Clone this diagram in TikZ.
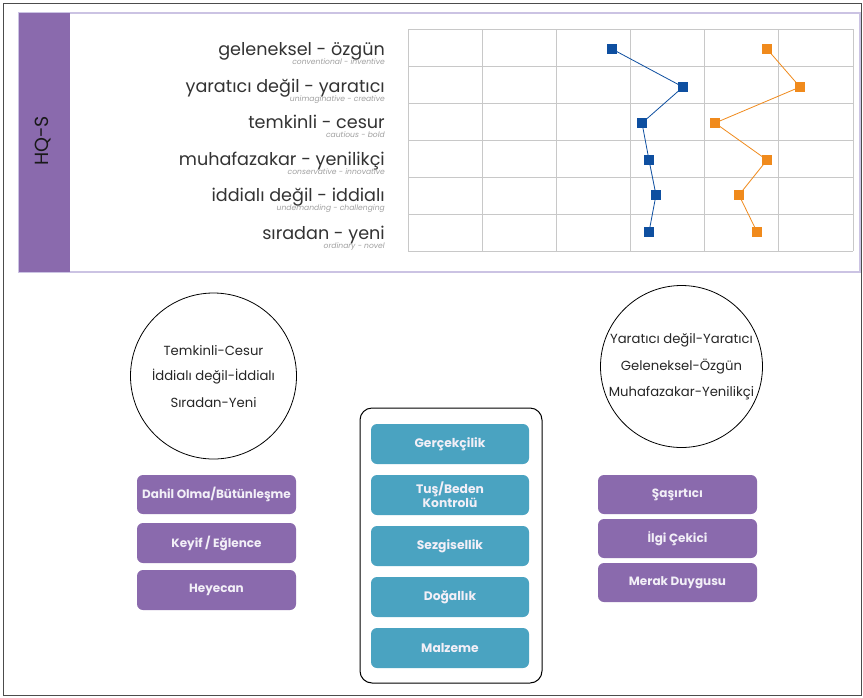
\documentclass[tikz,border=0pt]{standalone}
\usepackage{fontspec}
\setmainfont{Poppins}
\definecolor{band}{HTML}{8A6AAD}
\definecolor{panelline}{HTML}{CBC3E3}
\definecolor{gridc}{HTML}{C8C8C8}
\definecolor{serA}{HTML}{0E4FA0}
\definecolor{serB}{HTML}{F08A1C}
\definecolor{tealc}{HTML}{4AA3C1}
\definecolor{boxtext}{HTML}{F2EFF7}
\definecolor{subc}{HTML}{A0A0A0}
\begin{document}
\begin{tikzpicture}[x=1pt,y=-1pt,
  pair/.style={anchor=base east,font=\fontsize{17.6}{17.6}\selectfont,text=black!80,inner sep=0pt},
  sub/.style={anchor=base east,font=\fontsize{7.6}{7.6}\selectfont\itshape,text=subc,inner sep=0pt},
  purplebox/.style={draw=none,fill=band,rounded corners=6pt,text=boxtext,
    font=\fontsize{12}{12}\selectfont\bfseries,align=center},
  tealbox/.style={draw=none,fill=tealc,rounded corners=6pt,text=boxtext,
    font=\fontsize{12.3}{11}\selectfont\bfseries,align=center},
  ring/.style={circle,draw=black,line width=0.8pt},
  ringtext/.style={font=\fontsize{13.2}{13}\selectfont,text=black!85,inner sep=0pt},
  markA/.style={draw=none,minimum size=10pt,inner sep=0pt,rectangle},
  markB/.style={draw=none,minimum size=10pt,inner sep=0pt,rectangle}]
\useasboundingbox (0,0) rectangle (863,697);
\fill[white] (0,0) rectangle (863,697);
% outer frame
\draw[black!70,line width=1pt] (3,3) rectangle (861,695);
% top panel with title band
\draw[panelline,line width=1.2pt,fill=white] (19,13) rectangle (860,272);
\fill[band] (19,13) rectangle (70,272);
\node[rotate=90,font=\fontsize{19}{19}\selectfont,text=black!90] (title) at (43,141) {HQ-S};
% row labels
\node[pair] (l1) at (385,55) {geleneksel - özgün};
\node[sub]  (s1) at (385,64.5) {conventional - inventive};
\node[pair] (l2) at (385,92) {yaratıcı değil - yaratıcı};
\node[sub]  (s2) at (385,101.5) {unimaginative - creative};
\node[pair] (l3) at (385,128) {temkinli - cesur};
\node[sub]  (s3) at (385,137.5) {cautious - bold};
\node[pair] (l4) at (385,165) {muhafazakar - yenilikçi};
\node[sub]  (s4) at (385,174.5) {conservative - innovative};
\node[pair] (l5) at (385,201) {iddialı değil - iddialı};
\node[sub]  (s5) at (385,210.5) {undemanding - challenging};
\node[pair] (l6) at (385,239) {sıradan - yeni};
\node[sub]  (s6) at (385,248.5) {ordinary - novel};
% grid
\foreach \x in {408,482.2,556.3,630.5,704.7,778.8,853} \draw[gridc,line width=0.7pt] (\x,29) -- (\x,251);
\foreach \y in {29,66,103,140,177,214,251} \draw[gridc,line width=0.7pt] (408,\y) -- (853,\y);
% series
\node[markA] (a1) at (612,49) {};
\node[markA] (a2) at (683,87) {};
\node[markA] (a3) at (642,123) {};
\node[markA] (a4) at (649,160) {};
\node[markA] (a5) at (656,195) {};
\node[markA] (a6) at (649,232) {};
\draw[serA,line width=0.8pt] (a1.center) -- (a2.center) -- (a3.center) -- (a4.center) -- (a5.center) -- (a6.center);
\node[markB] (b1) at (767,49) {};
\node[markB] (b2) at (800,87) {};
\node[markB] (b3) at (715,123) {};
\node[markB] (b4) at (767,160) {};
\node[markB] (b5) at (739,195) {};
\node[markB] (b6) at (757,232) {};
\draw[serB,line width=0.8pt] (b1.center) -- (b2.center) -- (b3.center) -- (b4.center) -- (b5.center) -- (b6.center);
\foreach \n in {a1,a2,a3,a4,a5,a6} \fill[serA] ([shift={(-5,-5)}]\n.center) rectangle ([shift={(5,5)}]\n.center);
\foreach \n in {b1,b2,b3,b4,b5,b6} \fill[serB] ([shift={(-5,-5)}]\n.center) rectangle ([shift={(5,5)}]\n.center);
% left group
\node[ring,minimum size=166pt] (cl) at (213.5,376) {};
\node[ringtext] (cl1) at (213.5,351) {Temkinli-Cesur};
\node[ringtext] (cl2) at (213.5,377) {İddialı değil-İddialı};
\node[ringtext] (cl3) at (213.5,403) {Sıradan-Yeni};
\node[purplebox,minimum width=159pt,minimum height=39pt] (p1) at (216.5,494.5) {Dahil Olma/Bütünleşme};
\node[purplebox,minimum width=159pt,minimum height=40pt] (p2) at (216.5,543) {Keyif / Eğlence};
\node[purplebox,minimum width=159pt,minimum height=40pt] (p3) at (216.5,590) {Heyecan};
% middle group
\draw[black,line width=1pt,rounded corners=12pt] (360,408) rectangle (542,683);
\node[tealbox,minimum width=158pt,minimum height=40pt] (t1) at (450,444) {Gerçekçilik};
\node[tealbox,minimum width=158pt,minimum height=40pt] (t2) at (450,495) {Tuş/Beden\\Kontrolü};
\node[tealbox,minimum width=158pt,minimum height=40pt] (t3) at (450,546) {Sezgisellik};
\node[tealbox,minimum width=158pt,minimum height=40pt] (t4) at (450,597) {Doğallık};
\node[tealbox,minimum width=158pt,minimum height=40pt] (t5) at (450,648) {Malzeme};
% right group
\node[ring,minimum size=162pt] (cr) at (681.5,366.5) {};
\node[ringtext] (cr1) at (681.5,340) {Yaratıcı değil-Yaratıcı};
\node[ringtext] (cr2) at (681.5,367) {Geleneksel-Özgün};
\node[ringtext] (cr3) at (681.5,393) {Muhafazakar-Yenilikçi};
\node[purplebox,minimum width=159pt,minimum height=39pt] (q1) at (677.5,494.5) {Şaşırtıcı};
\node[purplebox,minimum width=159pt,minimum height=39pt] (q2) at (677.5,538.5) {İlgi Çekici};
\node[purplebox,minimum width=159pt,minimum height=39pt] (q3) at (677.5,582.5) {Merak Duygusu};
\end{tikzpicture}
\end{document}
